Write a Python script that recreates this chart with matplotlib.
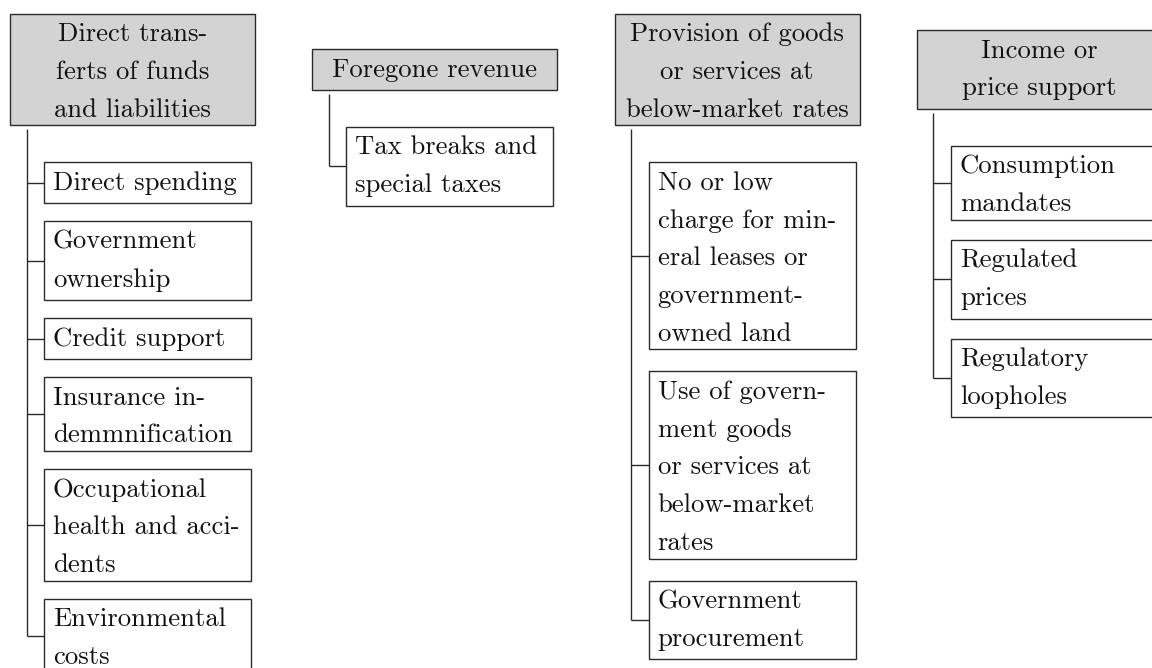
import matplotlib
matplotlib.use("Agg")
import matplotlib.pyplot as plt
from matplotlib.patches import Rectangle

# ---- content (tree of subsidy categories) ----
headers = [
    "Direct trans-\nferts of funds\nand liabilities",
    "Foregone revenue",
    "Provision of goods\nor services at\nbelow-market rates",
    "Income or\nprice support",
]
children_col1 = [
    "Direct spending",
    "Government\nownership",
    "Credit support",
    "Insurance in-\ndemmnification",
    "Occupational\nhealth and acci-\ndents",
    "Environmental\ncosts",
]
children_col2 = ["Tax breaks and\nspecial taxes"]
children_col3 = [
    "No or low\ncharge for min-\neral leases or\ngovernment-\nowned land",
    "Use of govern-\nment goods\nor services at\nbelow-market\nrates",
    "Government\nprocurement",
]
children_col4 = [
    "Consumption\nmandates",
    "Regulated\nprices",
    "Regulatory\nloopholes",
]
children = [children_col1, children_col2, children_col3, children_col4]

# ---- layout constants (pixels) ----
W, H = 1152, 668
FONT = "cmr10"
FS = 19.2
LINE = 37.7
TOP_OFF = 27.5
BOT_DESC = 13.5
BOT_NODESC = 8.8
COL_X0 = 10
COL_STEP = 302.3
HEAD_W = 245
CHILD_W = 207
TRUNK_DX = 16.5
CHILD_DX = 34
HEAD_CY = 69.5
FIRST_GAP = 37
GAPS = [18, 20, 22, 20]
EDGE = "#2a2a2a"
HEAD_FILL = "#d3d3d3"


def box_height(text):
    lines = text.split("\n")
    last = lines[-1]
    bot = BOT_DESC if any(c in last for c in "gjpqy") else BOT_NODESC
    return TOP_OFF + (len(lines) - 1) * LINE + bot


def draw_box(ax, x, top, w, text, fill, center):
    h = box_height(text)
    ax.add_patch(Rectangle((x, top), w, h, facecolor=fill, edgecolor=EDGE,
                           linewidth=1.0, zorder=2))
    for i, ln in enumerate(text.split("\n")):
        y = top + TOP_OFF + i * LINE
        if center:
            ax.text(x + w / 2, y, ln, ha="center", va="baseline",
                    fontsize=FS, family=FONT, color="#111111", zorder=3)
        else:
            ax.text(x + 9, y, ln, ha="left", va="baseline",
                    fontsize=FS, family=FONT, color="#111111", zorder=3)
    return h


fig = plt.figure(figsize=(W / 100, H / 100), dpi=100)
ax = fig.add_axes([0, 0, 1, 1])
ax.set_xlim(0, W)
ax.set_ylim(H, 0)
ax.axis("off")

for ci, (head, kids) in enumerate(zip(headers, children)):
    x0 = COL_X0 + ci * COL_STEP
    hh = box_height(head)
    htop = HEAD_CY - hh / 2
    draw_box(ax, x0, htop, HEAD_W, head, HEAD_FILL, center=True)
    hbot = htop + hh

    tx = x0 + TRUNK_DX
    cx = x0 + CHILD_DX
    top = hbot + FIRST_GAP
    mids = []
    for k in kids:
        h = draw_box(ax, cx, top, CHILD_W, k, "white", center=False)
        mids.append(top + h / 2)
        top += h + GAPS[ci]
    ax.plot([tx, tx], [hbot + 4, mids[-1]], color=EDGE, lw=1.0,
            solid_capstyle="butt", zorder=1)
    for m in mids:
        ax.plot([tx, cx], [m, m], color=EDGE, lw=1.0,
                solid_capstyle="butt", zorder=1)

fig.savefig("out.png", dpi=100, facecolor="white")
